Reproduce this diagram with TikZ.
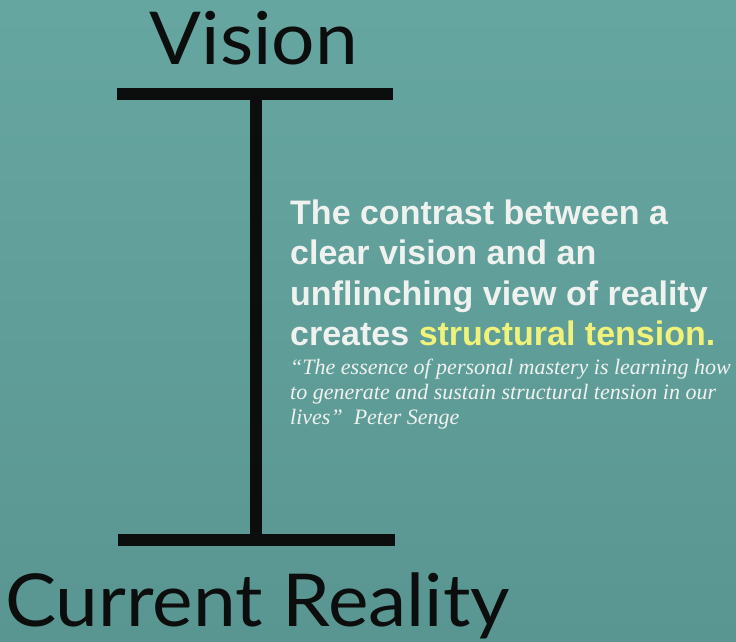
\documentclass[tikz,border=0pt]{standalone}
\usepackage{fontspec}
\setmainfont{Liberation Sans}
\newfontfamily\gillfont[FakeStretch=1.05]{Lato}
\newfontfamily\quotefont{Liberation Serif}
\definecolor{bgtop}{RGB}{102,166,161}
\definecolor{bgbot}{RGB}{90,150,145}
\definecolor{barcol}{RGB}{12,14,14}
\definecolor{txtwhite}{RGB}{240,242,240}
\definecolor{txtyellow}{RGB}{240,242,122}
\tikzset{
  bar/.style={line width=12.5pt, draw=barcol},
  title/.style={inner sep=0pt, text=barcol, font=\gillfont\fontsize{73}{80}\selectfont},
  mainline/.style={inner sep=0pt, anchor=base west, text=txtwhite, font=\bfseries\fontsize{34}{40}\selectfont},
  quoteline/.style={inner sep=0pt, anchor=base west, text=txtwhite, font=\quotefont\itshape\fontsize{22}{25}\selectfont},
}
\begin{document}
\begin{tikzpicture}[x=1pt,y=-1pt]
\shade[top color=bgtop, bottom color=bgbot] (0,0) rectangle (736,642);
\useasboundingbox (0,0) rectangle (736,642);
\node[title, anchor=base] (vision) at (254,65) {Vision};
\node[title, anchor=base west] (reality) at (5,626) {Current Reality};
\coordinate (tl) at (117,94);
\coordinate (tr) at (393,94);
\coordinate (bl) at (118,540);
\coordinate (br) at (395,540);
\coordinate (vt) at (256,94);
\coordinate (vb) at (256,540);
\draw[bar] (tl) -- (tr);
\draw[bar] (bl) -- (br);
\draw[bar] (vt) -- (vb);
\node[mainline] (l1) at (290,224) {The contrast between a};
\node[mainline] (l2) at (290,264.5) {clear vision and an};
\node[mainline] (l3) at (290,305) {unflinching view of reality};
\node[mainline] (l4) at (290,345.5) {creates \textcolor{txtyellow}{structural tension.}};
\node[quoteline] (q1) at (290,374) {“The essence of personal mastery is learning how};
\node[quoteline] (q2) at (290,399) {to generate and sustain structural tension in our};
\node[quoteline] (q3) at (290,424) {lives”\ \ Peter Senge};
\end{tikzpicture}
\end{document}
